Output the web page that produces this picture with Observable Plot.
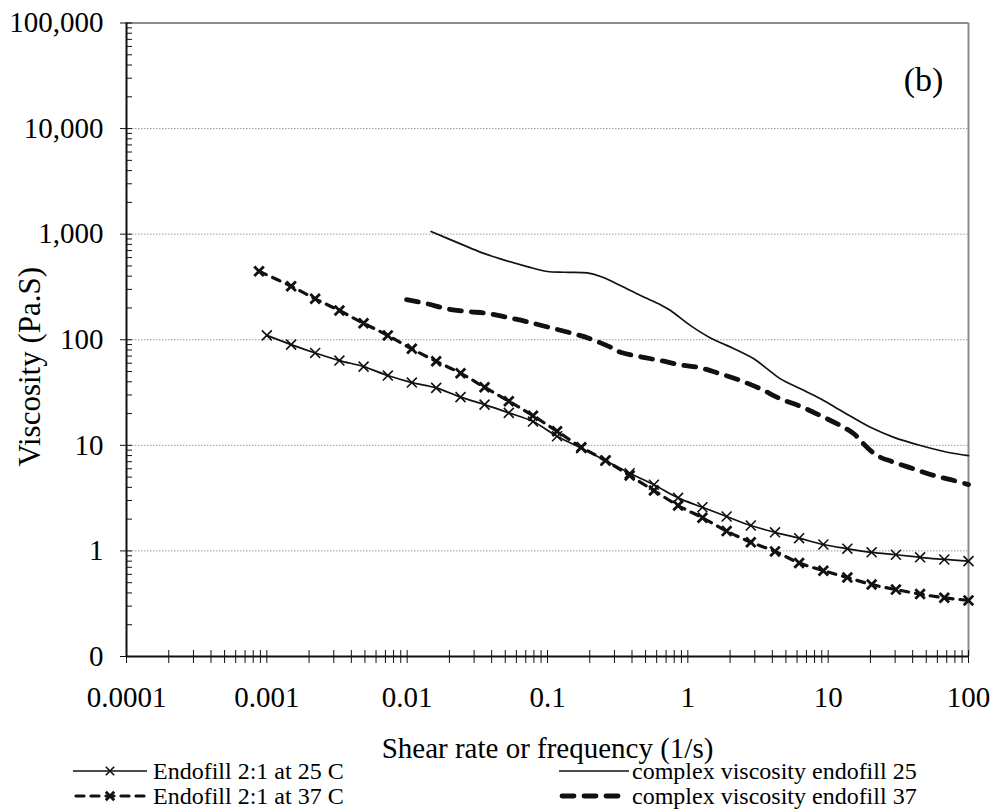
<!DOCTYPE html>
<html>
<head>
<meta charset="utf-8">
<script src="https://cdn.jsdelivr.net/npm/d3@7"></script>
<script src="https://cdn.jsdelivr.net/npm/@observablehq/plot@0.6"></script>
<style>
  html, body { margin: 0; padding: 0; background: #fff; }
  #wrap { width: 997px; height: 809px; overflow: hidden; background: #fff; }
  #chart svg, #legend svg { display: block; }
  #legend { margin-top: -13px; position: relative; }
</style>
</head>
<body>
<div id="wrap">
  <div id="chart"></div>
  <div id="legend"></div>
</div>
<script>
// ---------- data ----------
const seriesNames = [
  "Endofill 2:1 at 25 C",
  "Endofill 2:1 at 37 C",
  "complex viscosity endofill 25",
  "complex viscosity endofill 37"
];

// steady shear sweeps (1/s)
const shearRate25 = [0.001, 0.00149, 0.00221, 0.00329, 0.00489, 0.00728, 0.0108, 0.0161, 0.0240, 0.0356,
  0.0530, 0.0788, 0.117, 0.174, 0.259, 0.385, 0.573, 0.852, 1.27, 1.89,
  2.81, 4.18, 6.21, 9.24, 13.7, 20.4, 30.4, 45.2, 67.2, 100];
const viscosity25 = [110, 90, 75, 63.5, 55.7, 45.8, 39.3, 35.0, 28.6, 24.3,
  20.3, 16.8, 12.2, 9.4, 7.18, 5.44, 4.23, 3.18, 2.59, 2.12,
  1.74, 1.50, 1.32, 1.15, 1.05, 0.97, 0.92, 0.87, 0.83, 0.80];

const shearRate37 = [0.00088, 0.00149, 0.00221, 0.00329, 0.00489, 0.00728, 0.0108, 0.0161, 0.0240, 0.0356,
  0.0530, 0.0788, 0.117, 0.174, 0.259, 0.385, 0.573, 0.852, 1.27, 1.89,
  2.81, 4.18, 6.21, 9.24, 13.7, 20.4, 30.4, 45.2, 67.2, 100];
const viscosity37 = [445, 321, 244, 189, 143, 110, 82, 62.5, 48.2, 35.5,
  26.2, 19.1, 13.6, 9.6, 7.18, 5.18, 3.73, 2.69, 2.06, 1.54,
  1.21, 0.99, 0.77, 0.65, 0.56, 0.48, 0.43, 0.39, 0.36, 0.34];

// oscillatory sweeps (frequency, 1/s)
const frequency25 = [0.0148, 0.024, 0.0343, 0.0462, 0.0716, 0.0995, 0.131, 0.192, 0.239, 0.331,
  0.460, 0.638, 0.753, 1.045, 1.45, 1.91, 2.95, 3.68, 4.57, 6.35,
  8.82, 12.9, 20.0, 29.4, 45.5, 70.5, 100];
const complex25 = [1059, 809, 665, 583, 493, 443, 436, 430, 397, 326,
  262, 215, 189, 136, 104, 88, 66, 53, 42.6, 34.3,
  27.6, 20.6, 14.8, 11.9, 9.96, 8.6, 8.0];

const frequency37 = [0.0099, 0.0139, 0.0193, 0.0268, 0.0372, 0.0516, 0.0716, 0.105, 0.154, 0.202,
  0.281, 0.331, 0.460, 0.638, 0.887, 1.23, 1.71, 2.37, 3.29, 4.57,
  6.35, 8.82, 12.2, 15.2, 17.9, 22.3, 29.4, 40.7, 56.6, 78.5, 100];
const complex37 = [240, 219, 196, 185, 178, 163, 148, 130, 114, 102,
  85, 76, 69, 63.5, 57.8, 54.2, 47.5, 41.1, 34.3, 27.6,
  23.4, 19.1, 15.4, 12.9, 10.3, 8.0, 6.92, 5.99, 5.18, 4.64, 4.25];

// axes
const xDomain = [0.0001, 100];
const yDomain = [0.1, 100000];
const xTickValues = [0.0001, 0.001, 0.01, 0.1, 1, 10, 100];
const xTickLabels = ["0.0001", "0.001", "0.01", "0.1", "1", "10", "100"];
const yTickValues = [0.1, 1, 10, 100, 1000, 10000, 100000];
const yTickLabels = ["0", "1", "10", "100", "1,000", "10,000", "100,000"];
const gridValues = [1, 10, 100, 1000, 10000];
const minorFactors = [2, 3, 4, 5, 6, 7, 8, 9];
const xTitle = "Shear rate or frequency (1/s)";
const yTitle = "Viscosity (Pa.S)";
const panelLabel = "(b)";

// ---------- tables ----------
const s25 = shearRate25.map((x, i) => ({x, y: viscosity25[i]}));
const s37 = shearRate37.map((x, i) => ({x, y: viscosity37[i]}));
const c25 = frequency25.map((x, i) => ({x, y: complex25[i]}));
const c37 = frequency37.map((x, i) => ({x, y: complex37[i]}));
const xMinor = xTickValues.slice(0, -1).flatMap(d => minorFactors.map(f => d * f));
const yMinor = yTickValues.slice(0, -1).flatMap(d => minorFactors.map(f => d * f));

const ff = "'Liberation Serif', 'Times New Roman', Tinos, Times, serif";
const ink = "#111";

const chart = Plot.plot({
  width: 997,
  height: 760,
  marginLeft: 126,
  marginRight: 29,
  marginTop: 22.5,
  marginBottom: 104,
  style: {fontFamily: ff, background: "#fff", color: "#000", overflow: "visible"},
  x: {type: "log", domain: xDomain},
  y: {type: "log", domain: yDomain},
  marks: [
    Plot.ruleY(gridValues, {stroke: "#9a9a9a", strokeWidth: 1, strokeDasharray: "1.5,1.5"}),
    Plot.ruleY([yDomain[1]], {stroke: "#8c8c8c", strokeWidth: 2}),
    Plot.ruleX([xDomain[1]], {stroke: "#8c8c8c", strokeWidth: 2}),

    // complex viscosity curves
    Plot.line(c25, {x: "x", y: "y", stroke: ink, strokeWidth: 1.7, curve: "catmull-rom"}),
    Plot.line(c37, {x: "x", y: "y", stroke: ink, strokeWidth: 4.8, strokeDasharray: "12,10",
      strokeLinecap: "round", curve: "catmull-rom"}),

    // steady shear curves with markers
    Plot.line(s25, {x: "x", y: "y", stroke: ink, strokeWidth: 1.7, curve: "catmull-rom"}),
    Plot.dot(s25, {x: "x", y: "y", symbol: "times", r: 4.6, stroke: ink, strokeWidth: 1.6}),
    Plot.line(s37, {x: "x", y: "y", stroke: ink, strokeWidth: 3.2, strokeDasharray: "8,7",
      strokeLinecap: "round", curve: "catmull-rom"}),
    Plot.dot(s37, {x: "x", y: "y", symbol: "times", r: 4.4, stroke: ink, strokeWidth: 2.8}),

    // axis lines
    Plot.ruleX([xDomain[0]], {stroke: ink, strokeWidth: 2}),
    Plot.ruleY([yDomain[0]], {stroke: ink, strokeWidth: 2}),

    // y ticks
    Plot.axisY(yMinor, {anchor: "left", tickSize: 6, dx: 6, fill: "none", stroke: ink, label: null}),
    Plot.axisY(yTickValues, {anchor: "left", tickSize: 12, dx: 6, fill: "none", stroke: ink, label: null}),
    Plot.axisY(yTickValues, {anchor: "left", tickSize: 0, tickPadding: 23, fontSize: 29, fill: "#000",
      tickFormat: d => yTickLabels[yTickValues.indexOf(d)], label: null}),

    // x ticks (crossing the axis)
    Plot.axisX(xMinor.concat(xTickValues), {anchor: "bottom", tickSize: 13, dy: -6, fill: "none",
      stroke: ink, label: null}),
    Plot.axisX(xTickValues, {anchor: "bottom", tickSize: 0, tickPadding: 30, fontSize: 29, fill: "#000",
      tickFormat: d => xTickLabels[xTickValues.indexOf(d)], label: null}),

    // titles
    Plot.text([yTitle], {text: d => d, frameAnchor: "left", textAnchor: "middle", lineAnchor: "middle",
      rotate: -90, dx: -96, dy: 27, fontSize: 31, fill: "#000"}),
    Plot.text([xTitle], {text: d => d, frameAnchor: "bottom", textAnchor: "middle", lineAnchor: "middle",
      dy: 92, fontSize: 29, fill: "#000"}),
    Plot.text([panelLabel], {text: d => d, frameAnchor: "top-right", textAnchor: "middle", lineAnchor: "middle",
      dx: -45, dy: 57, fontSize: 34, fill: "#000"})
  ]
});
document.getElementById("chart").appendChild(chart);

// ---------- legend (below the chart SVG) ----------
const legendItems = [
  {name: seriesNames[0], x1: 73, x2: 147, tx: 153, row: 0, width: 1.7, dash: null, marker: 1.6},
  {name: seriesNames[1], x1: 73, x2: 147, tx: 153, row: 1, width: 3.2, dash: "8,7", marker: 2.8},
  {name: seriesNames[2], x1: 559, x2: 629, tx: 632, row: 0, width: 1.7, dash: null, marker: 0},
  {name: seriesNames[3], x1: 559, x2: 629, tx: 632, row: 1, width: 4.8, dash: "12,10", marker: 0}
];
const rowY = [24, 49];   // within the legend svg (which starts 13px above the chart's bottom)
const lg = d3.select("#legend").append("svg")
  .attr("width", 997).attr("height", 62)
  .style("font-family", ff);
for (const it of legendItems) {
  const y = rowY[it.row];
  const ln = lg.append("line")
    .attr("x1", it.x1 + (it.dash ? 3 : 0)).attr("x2", it.x2 - (it.dash ? 3 : 0))
    .attr("y1", y).attr("y2", y)
    .attr("stroke", ink).attr("stroke-width", it.width);
  if (it.dash) ln.attr("stroke-dasharray", it.dash).attr("stroke-linecap", "round");
  if (it.marker) {
    const cx = (it.x1 + it.x2) / 2, r = 4.2;
    lg.append("path")
      .attr("d", `M${cx - r},${y - r}L${cx + r},${y + r}M${cx - r},${y + r}L${cx + r},${y - r}`)
      .attr("stroke", ink).attr("stroke-width", it.marker).attr("fill", "none");
  }
  lg.append("text")
    .attr("x", it.tx).attr("y", y).attr("dy", "0.33em")
    .attr("font-size", 24).attr("fill", "#000")
    .text(it.name);
}
</script>
</body>
</html>
